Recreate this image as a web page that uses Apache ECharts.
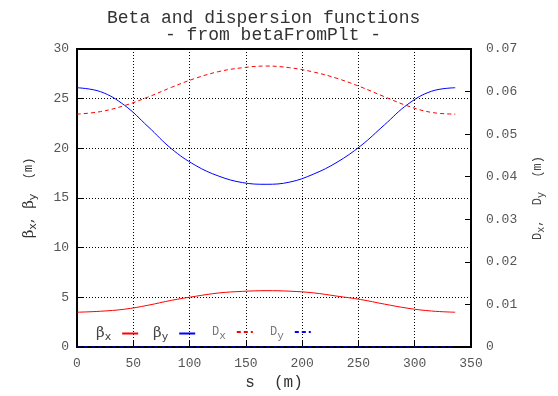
<!DOCTYPE html>
<html>
<head>
<meta charset="utf-8">
<script src="https://cdn.jsdelivr.net/npm/echarts@6/dist/echarts.min.js"></script>
<style>
  html, body { margin: 0; padding: 0; background: #fff; }
  #chart { width: 558px; height: 396px; }
</style>
</head>
<body>
<div id="chart"></div>
<script>
// Lattice functions along the ring, s in metres
var sPos  = [0, 21, 42, 63, 84, 105, 126, 147, 168, 189, 210, 231, 252, 273, 294, 315, 336];
var betaX = [3.50, 3.60, 3.80, 4.20, 4.70, 5.10, 5.44, 5.60, 5.67, 5.62, 5.45, 5.12, 4.78, 4.32, 3.90, 3.62, 3.50];
var betaY = [26.10, 25.70, 24.35, 22.20, 19.95, 18.30, 17.20, 16.55, 16.38, 16.60, 17.40, 18.60, 20.25, 22.35, 24.45, 25.75, 26.10];
var dispX = [0.0547, 0.0553, 0.0567, 0.0587, 0.0610, 0.0631, 0.0647, 0.0656, 0.0660, 0.0656, 0.0646, 0.0631, 0.0611, 0.0588, 0.0566, 0.0551, 0.0547];
var dispY = [0, 0, 0, 0, 0, 0, 0, 0, 0, 0, 0, 0, 0, 0, 0, 0, 0];

var xTicks = { min: 0, max: 350, interval: 50 };
var betaTicks = { min: 0, max: 30, interval: 5 };
var dispTicks = { min: 0, max: 0.07, interval: 0.01 };

var MONO = '"Liberation Mono", "DejaVu Sans Mono", monospace';

function pairs(ys) {
  return sPos.map(function (s, i) { return [s, ys[i]]; });
}

var chart = echarts.init(document.getElementById('chart'), null, { renderer: 'canvas' });

var richLegend = {
  g: { fontFamily: '"DejaVu Serif", serif', fontSize: 15, color: '#444' },
  gs: { fontFamily: '"DejaVu Sans", sans-serif', fontSize: 11, color: '#444', padding: [8, 0, 0, 0] },
  d: { fontFamily: MONO, fontSize: 12, color: '#777' },
  ds: { fontFamily: MONO, fontSize: 11, color: '#777', padding: [8, 0, 0, 0] }
};

var legendLabels = {
  'betaX': '{g|β}{gs|x}',
  'betaY': '{g|β}{gs|y}',
  'dispX': '{d|D}{ds|x}',
  'dispY': '{d|D}{ds|y}'
};

function legendFor(name, left) {
  return {
    data: [name],
    left: left,
    top: 326,
    align: 'right',
    itemWidth: 16,
    itemHeight: 8,
    itemGap: 0,
    padding: 0,
    selectedMode: false,
    itemStyle: { color: 'transparent', borderColor: 'transparent', borderWidth: 0, opacity: 0 },
    formatter: function (n) { return legendLabels[n]; },
    textStyle: { rich: richLegend, padding: [0, 6, 0, 0] }
  };
}

function lineSeries(name, ys, color, dashed, axis) {
  return {
    name: name,
    type: 'line',
    yAxisIndex: axis,
    data: pairs(ys),
    smooth: 0.4,
    symbol: 'none',
    lineStyle: { color: color, width: 1, type: dashed ? [4, 3] : 'solid' },
    itemStyle: { color: color },
    emphasis: { disabled: true },
    animation: false
  };
}

var option = {
  animation: false,
  graphic: [
    {
      type: 'text', left: 267 - 160, top: 9,
      style: { text: 'Beta and dispersion functions', font: '18px ' + MONO, fill: '#333', width: 320, align: 'center' }
    },
    {
      type: 'text', left: 280 - 115, top: 26,
      style: { text: '- from betaFromPlt -', font: '18px ' + MONO, fill: '#333', width: 230, align: 'center' }
    }
  ],
  grid: {
    left: 77, right: 87, top: 49, bottom: 49,
    show: true, borderColor: '#000', borderWidth: 2, backgroundColor: 'transparent'
  },
  legend: [
    legendFor('betaX', 96),
    legendFor('betaY', 153),
    legendFor('dispX', 212),
    legendFor('dispY', 270)
  ],
  xAxis: {
    type: 'value',
    min: xTicks.min, max: xTicks.max, interval: xTicks.interval,
    name: 's  (m)',
    nameLocation: 'middle',
    nameGap: 28,
    nameTextStyle: { fontFamily: MONO, fontSize: 16, color: '#333' },
    axisLine: { show: true, lineStyle: { color: '#000', width: 2 } },
    axisTick: { show: true, inside: true, length: 6, lineStyle: { color: '#000', width: 1 } },
    axisLabel: { fontFamily: MONO, fontSize: 13, color: '#555', margin: 10 },
    splitLine: { show: true, lineStyle: { color: '#000', width: 1, type: [1, 2] } }
  },
  yAxis: [
    {
      type: 'value',
      position: 'left',
      min: betaTicks.min, max: betaTicks.max, interval: betaTicks.interval,
      name: '{g|β}{gs|x}{g|,  β}{gs|y}{m|  (m)}',
      nameLocation: 'middle',
      nameRotate: 90,
      nameGap: 38,
      nameTextStyle: {
        rich: {
          g: { fontFamily: '"DejaVu Serif", serif', fontSize: 15, color: '#333' },
          gs: { fontFamily: '"DejaVu Sans", sans-serif', fontSize: 11, color: '#333', padding: [9, 0, 0, 0] },
          m: { fontFamily: MONO, fontSize: 12, color: '#333' }
        }
      },
      axisLine: { show: true, lineStyle: { color: '#000', width: 2 } },
      axisTick: { show: true, inside: true, length: 6, lineStyle: { color: '#000', width: 1 } },
      axisLabel: { fontFamily: MONO, fontSize: 13, color: '#555', margin: 8 },
      splitLine: { show: true, lineStyle: { color: '#000', width: 1, type: [1, 2] } }
    },
    {
      type: 'value',
      position: 'right',
      min: dispTicks.min, max: dispTicks.max, interval: dispTicks.interval,
      name: '{d|D}{ds|x}{d|,  D}{ds|y}{d|  (m)}',
      nameLocation: 'middle',
      nameRotate: 90,
      nameGap: 58,
      nameTextStyle: {
        rich: {
          d: { fontFamily: MONO, fontSize: 12, color: '#444' },
          ds: { fontFamily: MONO, fontSize: 10, color: '#444', padding: [7, 0, 0, 0] }
        }
      },
      axisLine: { show: true, lineStyle: { color: '#000', width: 2 } },
      axisTick: { show: true, inside: true, length: 6, lineStyle: { color: '#000', width: 1 } },
      axisLabel: {
        fontFamily: MONO, fontSize: 13, color: '#555', margin: 15,
        formatter: function (v) { return v === 0 ? '0' : v.toFixed(2); }
      },
      splitLine: { show: false }
    }
  ],
  series: [
    lineSeries('betaX', betaX, '#ff0000', false, 0),
    lineSeries('betaY', betaY, '#0000ff', false, 0),
    lineSeries('dispX', dispX, '#ff0000', true, 1),
    lineSeries('dispY', dispY, '#0000ff', true, 1)
  ]
};

chart.setOption(option);
</script>
</body>
</html>
